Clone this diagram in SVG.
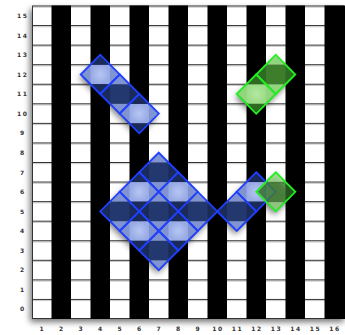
<svg xmlns="http://www.w3.org/2000/svg" xmlns:xlink="http://www.w3.org/1999/xlink" width="345" height="335" viewBox="0 0 345 335">
<style>
.lbl{font-family:"DejaVu Sans","Liberation Sans",sans-serif;font-weight:bold;font-size:6px;letter-spacing:1.4px;fill:#333;text-anchor:middle}
.hl{stroke:#333;stroke-width:1}
.hl2{stroke:#c8c8c8;stroke-width:1}
.bL{fill:#8194d2}.bD{fill:#22386e}.bDD{fill:#1a2b5a}.bH{fill:url(#gB)}
.gL{fill:#93d47f}.gD{fill:#3c7e2c}.gDD{fill:#2e6a22}.gH{fill:url(#gG)}
.eb{fill:none;stroke:#2040ff;stroke-width:1.9}
.eg{fill:none;stroke:#22ee22;stroke-width:1.9}
</style>
<defs>
<radialGradient id="gB"><stop offset="0" stop-color="#b6c6f4"/><stop offset="1" stop-color="#98aae4"/></radialGradient>
<radialGradient id="gG"><stop offset="0" stop-color="#b2e8a0"/><stop offset="1" stop-color="#9cdc88"/></radialGradient>
<filter id="sh" x="-30%" y="-30%" width="160%" height="160%"><feGaussianBlur stdDeviation="3"/></filter>
<filter id="gsh" x="-10%" y="-10%" width="120%" height="120%"><feGaussianBlur stdDeviation="3"/></filter>
<clipPath id="dia"><polygon points="0,-18.25 18.2,0 0,18.25 -18.2,0"/></clipPath>
<polygon id="dfill" points="0,-19.56 19.5,0 0,19.56 -19.5,0"/>
<g id="blueL"><rect class="bL" x="-19.5" y="-9.78" width="39" height="19.56"/><rect class="bH" x="-9.75" y="-9.78" width="19.5" height="19.56"/><rect class="bDD" x="-19.5" y="-19.56" width="39" height="9.78"/><rect class="bDD" x="-19.5" y="9.78" width="39" height="9.78"/></g>
<g id="blueD"><rect class="bD" x="-19.5" y="-9.78" width="39" height="19.56"/><rect class="bDD" x="-19.5" y="-9.78" width="9.75" height="19.56"/><rect class="bDD" x="9.75" y="-9.78" width="9.75" height="19.56"/><rect class="bL" x="-19.5" y="-19.56" width="39" height="9.78"/><rect class="bL" x="-19.5" y="9.78" width="39" height="9.78"/></g>
<g id="greenL"><rect class="gL" x="-19.5" y="-9.78" width="39" height="19.56"/><rect class="gH" x="-9.75" y="-9.78" width="19.5" height="19.56"/><rect class="gDD" x="-19.5" y="-19.56" width="39" height="9.78"/><rect class="gDD" x="-19.5" y="9.78" width="39" height="9.78"/></g>
<g id="greenD"><rect class="gD" x="-19.5" y="-9.78" width="39" height="19.56"/><rect class="gDD" x="-19.5" y="-9.78" width="9.75" height="19.56"/><rect class="gDD" x="9.75" y="-9.78" width="9.75" height="19.56"/><rect class="gL" x="-19.5" y="-19.56" width="39" height="9.78"/><rect class="gL" x="-19.5" y="9.78" width="39" height="9.78"/></g>
</defs>

<rect x="0" y="0" width="345" height="335" fill="#fff"/>

<g id="board">
<rect x="30" y="9" width="314" height="313" fill="#000" opacity="0.55" filter="url(#gsh)"/>
<rect x="32" y="6" width="312" height="313" fill="#fff"/>
<g class="hl2">
<line x1="32" y1="7.2" x2="344" y2="7.2"/><line x1="32" y1="26.8" x2="344" y2="26.8"/><line x1="32" y1="46.3" x2="344" y2="46.3"/><line x1="32" y1="65.9" x2="344" y2="65.9"/><line x1="32" y1="85.5" x2="344" y2="85.5"/><line x1="32" y1="105" x2="344" y2="105"/><line x1="32" y1="124.6" x2="344" y2="124.6"/><line x1="32" y1="144.1" x2="344" y2="144.1"/><line x1="32" y1="163.7" x2="344" y2="163.7"/><line x1="32" y1="183.3" x2="344" y2="183.3"/><line x1="32" y1="202.8" x2="344" y2="202.8"/><line x1="32" y1="222.4" x2="344" y2="222.4"/><line x1="32" y1="242" x2="344" y2="242"/><line x1="32" y1="261.5" x2="344" y2="261.5"/><line x1="32" y1="281.1" x2="344" y2="281.1"/><line x1="32" y1="300.6" x2="344" y2="300.6"/>
</g>
<g class="hl">
<line x1="32" y1="6" x2="344" y2="6"/><line x1="32" y1="25.56" x2="344" y2="25.56"/><line x1="32" y1="45.13" x2="344" y2="45.13"/><line x1="32" y1="64.69" x2="344" y2="64.69"/><line x1="32" y1="84.25" x2="344" y2="84.25"/><line x1="32" y1="103.81" x2="344" y2="103.81"/><line x1="32" y1="123.38" x2="344" y2="123.38"/><line x1="32" y1="142.94" x2="344" y2="142.94"/><line x1="32" y1="162.5" x2="344" y2="162.5"/><line x1="32" y1="182.06" x2="344" y2="182.06"/><line x1="32" y1="201.63" x2="344" y2="201.63"/><line x1="32" y1="221.19" x2="344" y2="221.19"/><line x1="32" y1="240.75" x2="344" y2="240.75"/><line x1="32" y1="260.31" x2="344" y2="260.31"/><line x1="32" y1="279.88" x2="344" y2="279.88"/><line x1="32" y1="299.44" x2="344" y2="299.44"/><line x1="32" y1="318.5" x2="344" y2="318.5"/>
<line x1="32.5" y1="6" x2="32.5" y2="319"/>
</g>
<g fill="#000">
<rect x="51.5" y="5.5" width="19.5" height="313.5"/><rect x="90.5" y="5.5" width="19.5" height="313.5"/><rect x="129.5" y="5.5" width="19.5" height="313.5"/><rect x="168.5" y="5.5" width="19.5" height="313.5"/><rect x="207.5" y="5.5" width="19.5" height="313.5"/><rect x="246.5" y="5.5" width="19.5" height="313.5"/><rect x="285.5" y="5.5" width="19.5" height="313.5"/><rect x="324.5" y="5.5" width="20.5" height="313.5"/>
</g>
</g>

<g id="labels">
<text class="lbl" x="22.7" y="18">15</text><text class="lbl" x="22.7" y="37.5">14</text><text class="lbl" x="22.7" y="57.1">13</text><text class="lbl" x="22.7" y="76.7">12</text><text class="lbl" x="22.7" y="96.2">11</text><text class="lbl" x="22.7" y="115.8">10</text><text class="lbl" x="22.7" y="135.4">9</text><text class="lbl" x="22.7" y="154.9">8</text><text class="lbl" x="22.7" y="174.5">7</text><text class="lbl" x="22.7" y="194">6</text><text class="lbl" x="22.7" y="213.6">5</text><text class="lbl" x="22.7" y="233.2">4</text><text class="lbl" x="22.7" y="252.7">3</text><text class="lbl" x="22.7" y="272.3">2</text><text class="lbl" x="22.7" y="291.9">1</text><text class="lbl" x="22.7" y="311.4">0</text>
<text class="lbl" x="42.4" y="330.5">1</text><text class="lbl" x="61.9" y="330.5">2</text><text class="lbl" x="81.4" y="330.5">3</text><text class="lbl" x="100.9" y="330.5">4</text><text class="lbl" x="120.4" y="330.5">5</text><text class="lbl" x="139.9" y="330.5">6</text><text class="lbl" x="159.4" y="330.5">7</text><text class="lbl" x="178.9" y="330.5">8</text><text class="lbl" x="198.4" y="330.5">9</text><text class="lbl" x="217.9" y="330.5">10</text><text class="lbl" x="237.4" y="330.5">11</text><text class="lbl" x="256.9" y="330.5">12</text><text class="lbl" x="276.4" y="330.5">13</text><text class="lbl" x="295.9" y="330.5">14</text><text class="lbl" x="315.4" y="330.5">15</text><text class="lbl" x="334.9" y="330.5">16</text>
</g>

<g id="shadows" fill="#000" opacity="0.5" filter="url(#sh)" transform="translate(-1.5,3.5)">
<use href="#dfill" x="100.25" y="74.47"/><use href="#dfill" x="119.75" y="94.03"/><use href="#dfill" x="139.25" y="113.59"/>
<use href="#dfill" x="158.75" y="172.28"/><use href="#dfill" x="139.25" y="191.84"/><use href="#dfill" x="178.25" y="191.84"/>
<use href="#dfill" x="119.75" y="211.41"/><use href="#dfill" x="158.75" y="211.41"/><use href="#dfill" x="197.75" y="211.41"/>
<use href="#dfill" x="139.25" y="230.97"/><use href="#dfill" x="178.25" y="230.97"/><use href="#dfill" x="158.75" y="250.53"/>
<use href="#dfill" x="236.75" y="211.41"/><use href="#dfill" x="256.25" y="191.84"/>
<use href="#dfill" x="256.25" y="94.03"/><use href="#dfill" x="275.75" y="74.47"/><use href="#dfill" x="275.75" y="191.84"/>
</g>

<g id="connectors"/>

<g id="b4-12" transform="translate(100.25,74.47)"><g clip-path="url(#dia)"><use href="#blueL"/></g><use href="#dfill" class="eb"/></g>
<g id="b5-11" transform="translate(119.75,94.03)"><g clip-path="url(#dia)"><use href="#blueD"/></g><use href="#dfill" class="eb"/></g>
<g id="b6-10" transform="translate(139.25,113.59)"><g clip-path="url(#dia)"><use href="#blueL"/></g><use href="#dfill" class="eb"/></g>
<g id="b7-7" transform="translate(158.75,172.28)"><g clip-path="url(#dia)"><use href="#blueD"/></g><use href="#dfill" class="eb"/></g>
<g id="b6-6" transform="translate(139.25,191.84)"><g clip-path="url(#dia)"><use href="#blueL"/></g><use href="#dfill" class="eb"/></g>
<g id="b8-6" transform="translate(178.25,191.84)"><g clip-path="url(#dia)"><use href="#blueL"/></g><use href="#dfill" class="eb"/></g>
<g id="b5-5" transform="translate(119.75,211.41)"><g clip-path="url(#dia)"><use href="#blueD"/></g><use href="#dfill" class="eb"/></g>
<g id="b7-5" transform="translate(158.75,211.41)"><g clip-path="url(#dia)"><use href="#blueD"/></g><use href="#dfill" class="eb"/></g>
<g id="b9-5" transform="translate(197.75,211.41)"><g clip-path="url(#dia)"><use href="#blueD"/></g><use href="#dfill" class="eb"/></g>
<g id="b6-4" transform="translate(139.25,230.97)"><g clip-path="url(#dia)"><use href="#blueL"/></g><use href="#dfill" class="eb"/></g>
<g id="b8-4" transform="translate(178.25,230.97)"><g clip-path="url(#dia)"><use href="#blueL"/></g><use href="#dfill" class="eb"/></g>
<g id="b7-3" transform="translate(158.75,250.53)"><g clip-path="url(#dia)"><use href="#blueD"/></g><use href="#dfill" class="eb"/></g>
<g id="b11-5" transform="translate(236.75,211.41)"><g clip-path="url(#dia)"><use href="#blueD"/></g><use href="#dfill" class="eb"/></g>
<g id="b12-6" transform="translate(256.25,191.84)"><g clip-path="url(#dia)"><use href="#blueL"/></g><use href="#dfill" class="eb"/></g>

<g id="g12-11" transform="translate(256.25,94.03)"><g clip-path="url(#dia)"><use href="#greenL"/></g><use href="#dfill" class="eg"/></g>
<g id="g13-12" transform="translate(275.75,74.47)"><g clip-path="url(#dia)"><use href="#greenD"/></g><use href="#dfill" class="eg"/></g>
<g id="g13-6" transform="translate(275.75,191.84)"><g clip-path="url(#dia)" opacity="0.8"><use href="#greenD"/></g><use href="#dfill" class="eg"/></g>
</svg>
